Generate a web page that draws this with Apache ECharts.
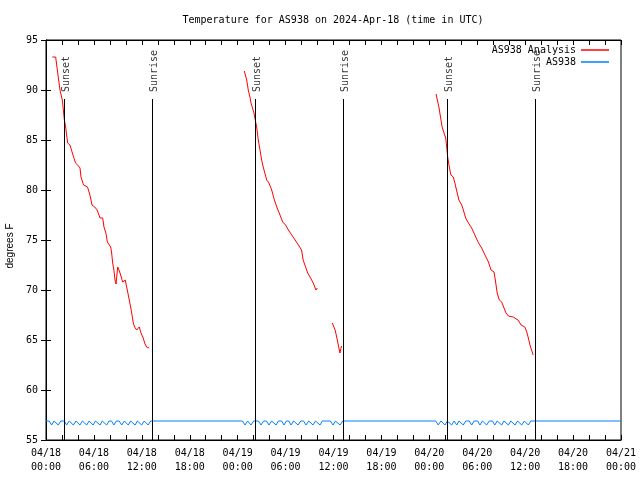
<!DOCTYPE html>
<html>
<head>
<meta charset="utf-8">
<script src="https://cdn.jsdelivr.net/npm/echarts@6/dist/echarts.min.js"></script>
<style>
html,body{margin:0;padding:0;background:#fff;}
#chart{width:640px;height:480px;}
</style>
</head>
<body>
<div id="chart"></div>
<script>
// ---- data (hours after 2024-04-18 00:00 UTC) ----
var titleText = 'Temperature for AS938 on 2024-Apr-18 (time in UTC)';
var yAxisName = 'degrees F';
var xTickDates = ['04/18','04/18','04/18','04/18','04/19','04/19','04/19','04/19','04/20','04/20','04/20','04/20','04/21'];
var xTickTimes = ['00:00','06:00','12:00','18:00','00:00','06:00','12:00','18:00','00:00','06:00','12:00','18:00','00:00'];

var analysisName = 'AS938 Analysis';
var analysisHours = [
  0.79,1.21,1.5,1.75,2.04,2.17,2.3,2.46,2.71,3.0,3.3,3.7,3.96,4.26,4.38,4.7,5.2,5.5,5.76,6.1,6.4,6.76,7.1,7.26,7.5,7.68,7.93,8.1,8.22,8.35,8.5,8.64,8.77,8.98,9.14,9.35,9.6,9.77,9.93,10.0,10.18,10.35,10.6,10.77,10.93,11.1,11.35,11.6,11.68,11.86,12.0,12.18,12.35,12.6,12.93,
  18,
  24.83,25.13,25.33,25.54,25.67,25.88,26.04,26.25,26.38,26.58,26.8,27.0,27.2,27.4,27.64,27.92,28.26,28.6,28.9,29.2,29.64,30.0,30.35,30.77,31.2,31.6,32.0,32.2,32.55,32.77,33.06,33.47,33.8,33.98,
  35,
  35.85,36.0,36.2,36.4,36.6,36.8,37.0,
  42,
  48.84,49.0,49.2,49.4,49.6,49.84,50.05,50.17,50.3,50.5,50.7,51.0,51.2,51.4,51.7,52.05,52.26,52.55,52.9,53.3,53.7,54.1,54.55,54.97,55.4,55.72,56.1,56.26,56.5,56.76,57.06,57.35,57.6,57.9,58.5,59.1,59.5,59.96,60.2,60.4,60.6,60.8,61.0
];
var analysisTemps = [
  93.3,93.3,91.5,90.0,89.0,88.0,87.0,86.3,84.7,84.5,83.7,82.7,82.5,82.2,81.3,80.5,80.3,79.5,78.5,78.3,78.0,77.2,77.2,76.3,75.7,74.8,74.7,74.3,73.7,72.7,72.0,71.0,70.6,72.3,72.0,71.5,70.8,70.7,71.0,70.7,70.0,69.3,68.3,67.5,66.7,66.3,66.0,65.8,66.3,65.8,65.5,65.2,64.7,64.3,64.2,
  '-',
  91.9,91.0,90.0,89.3,88.7,88.7,87.7,86.8,86.3,85.0,84.0,83.0,82.3,81.7,81.0,80.7,80.0,79.0,78.3,77.7,76.8,76.5,76.0,75.5,75.0,74.5,74.0,73.0,72.2,71.7,71.3,70.7,70.0,70.2,
  '-',
  66.7,66.6,66.0,65.3,64.5,63.7,64.4,
  '-',
  89.6,89.5,88.3,87.3,86.3,85.7,85.2,84.3,83.3,82.3,81.5,81.3,80.7,80.0,79.0,78.5,78.0,77.2,76.7,76.2,75.5,74.8,74.2,73.5,72.8,72.0,71.8,71.0,69.7,69.0,68.8,68.2,67.7,67.4,67.3,67.0,66.5,66.3,65.8,65.2,64.5,64.0,63.5
];

var obsName = 'AS938';
var obsHours = [
  0,0.4,0.71,1.0,1.25,1.54,1.85,2.3,2.58,2.9,3.1,3.42,3.75,3.95,4.25,4.55,4.8,5.1,5.4,5.6,5.9,6.2,6.45,6.76,7.05,7.3,7.6,7.9,8.2,8.5,8.8,9.15,9.48,9.8,10.0,10.3,10.6,10.85,11.15,11.45,11.7,11.98,12.3,12.5,12.8,13.1,
  24.6,24.92,25.25,25.4,25.67,26.0,26.6,26.92,27.25,27.6,27.92,28.25,28.5,28.8,29.1,29.5,29.8,30.1,30.4,30.68,31.0,31.25,31.56,31.9,32.25,32.56,32.9,33.1,33.43,33.75,34.0,34.31,34.6,35.6,35.94,36.25,36.5,36.82,37.15,
  48.8,49.12,49.45,49.65,49.96,50.25,50.5,50.8,51.1,51.2,51.43,51.7,51.95,52.25,52.55,53.0,53.3,53.6,54.05,54.34,54.65,54.9,55.18,55.5,55.9,56.2,56.5,56.75,57.06,57.35,57.6,57.9,58.2,58.45,58.73,59.05,59.3,59.57,59.9,60.1,60.4,60.7,72
];
var obsTemps = [
  56.9,56.9,56.5,56.9,56.9,56.5,56.9,56.9,56.5,56.9,56.9,56.5,56.9,56.9,56.5,56.9,56.9,56.5,56.9,56.9,56.5,56.9,56.9,56.5,56.9,56.9,56.5,56.9,56.9,56.5,56.9,56.9,56.5,56.9,56.9,56.5,56.9,56.9,56.5,56.9,56.9,56.5,56.9,56.9,56.5,56.9,
  56.9,56.5,56.9,56.9,56.5,56.9,56.9,56.5,56.9,56.9,56.5,56.9,56.9,56.5,56.9,56.9,56.5,56.9,56.9,56.5,56.9,56.9,56.5,56.9,56.9,56.5,56.9,56.9,56.5,56.9,56.9,56.5,56.9,56.9,56.5,56.9,56.9,56.5,56.9,
  56.9,56.5,56.9,56.9,56.5,56.9,56.9,56.5,56.9,56.9,56.5,56.9,56.9,56.5,56.9,56.9,56.5,56.9,56.9,56.5,56.9,56.9,56.5,56.9,56.9,56.5,56.9,56.9,56.5,56.9,56.9,56.5,56.9,56.9,56.5,56.9,56.9,56.5,56.9,56.9,56.5,56.9,56.9
];

var sunEventHours = [2.25, 13.3, 26.2, 37.23, 50.25, 61.27];
var sunEventNames = ['Sunset','Sunrise','Sunset','Sunrise','Sunset','Sunrise'];
var sunLineTop = 89.1;
var sunLabelBase = 89.8;

// ---- build ----
function zip(a, b) { return a.map(function (v, i) { return [v, b[i]]; }); }
var mono = 'DejaVu Sans Mono';

var chart = echarts.init(document.getElementById('chart'));
var option = {
  animation: false,
  backgroundColor: '#fff',
  title: {
    text: titleText, left: 333, top: 14, textAlign: 'center', padding: 0,
    textStyle: { fontFamily: mono, fontSize: 10, fontWeight: 'normal', color: '#000', lineHeight: 12 }
  },
  legend: [
    { data: [analysisName], right: 31, top: 44, padding: 0, align: 'right', icon: 'rect', itemWidth: 28, itemHeight: 1.5,
      textStyle: { fontFamily: mono, fontSize: 10, color: '#000', lineHeight: 12 } },
    { data: [obsName], right: 31, top: 56, padding: 0, align: 'right', icon: 'rect', itemWidth: 28, itemHeight: 1.5,
      textStyle: { fontFamily: mono, fontSize: 10, color: '#000', lineHeight: 12 } }
  ],
  grid: { left: 46, right: 19, top: 40, bottom: 40, show: true, borderColor: '#000', borderWidth: 1,
    containLabel: false, outerBoundsMode: 'none' },
  xAxis: [
    { type: 'value', min: 0, max: 72, interval: 2, position: 'bottom',
      axisLine: { lineStyle: { color: '#000' } },
      axisTick: { inside: true, length: 5, lineStyle: { color: '#000' } },
      splitLine: { show: false },
      axisLabel: { margin: 6, showMinLabel: true, showMaxLabel: true, fontFamily: mono, fontSize: 10, color: '#000', lineHeight: 14,
        formatter: function (v) { if (v % 6 !== 0) return ''; var i = v / 6; return xTickDates[i] + '\n' + xTickTimes[i]; } } },
    { type: 'value', min: 0, max: 72, interval: 2, position: 'top',
      axisLine: { lineStyle: { color: '#000' } },
      axisTick: { inside: true, length: 5, lineStyle: { color: '#000' } },
      splitLine: { show: false }, axisLabel: { show: false } }
  ],
  yAxis: [
    { type: 'value', min: 55, max: 95, interval: 5, position: 'left',
      name: yAxisName, nameLocation: 'middle', nameRotate: 90, nameGap: 31,
      nameTextStyle: { fontFamily: 'Liberation Sans', fontSize: 10, color: '#000', padding: [0, 12, 0, 0] },
      axisLine: { show: true, lineStyle: { color: '#000' } },
      axisTick: { show: true, inside: true, length: 5, lineStyle: { color: '#000' } },
      splitLine: { show: false },
      axisLabel: { margin: 8, fontFamily: mono, fontSize: 10, color: '#000' } },
    { type: 'value', min: 55, max: 95, interval: 5, position: 'right',
      axisLine: { show: true, lineStyle: { color: '#000' } },
      axisTick: { show: true, inside: true, length: 5, lineStyle: { color: '#000' } },
      splitLine: { show: false }, axisLabel: { show: false } }
  ],
  series: [
    { name: analysisName, type: 'line', data: zip(analysisHours, analysisTemps),
      showSymbol: false, symbol: 'none', connectNulls: false, color: '#ff0000',
      lineStyle: { width: 1, color: '#ff0000' }, z: 3 },
    { name: obsName, type: 'line', data: zip(obsHours, obsTemps),
      showSymbol: false, symbol: 'none', color: '#0080ff',
      lineStyle: { width: 1, color: '#0080ff' }, z: 3 },
    { name: 'sun', type: 'scatter', symbolSize: 0, silent: true, z: 2,
      data: sunEventHours.map(function (h, i) { return [h, sunLabelBase, sunEventNames[i]]; }),
      label: { show: true, position: 'inside', rotate: 90, align: 'left', verticalAlign: 'middle', offset: [0, 2],
        fontFamily: mono, fontSize: 10, color: '#000',
        formatter: function (p) { return p.value[2]; } },
      markLine: { silent: true, symbol: 'none', label: { show: false },
        lineStyle: { color: '#000', width: 1, type: 'solid' },
        data: sunEventHours.map(function (h) { return [{ coord: [h, 55] }, { coord: [h, sunLineTop] }]; }) } }
  ]
};
chart.setOption(option);
</script>
</body>
</html>
